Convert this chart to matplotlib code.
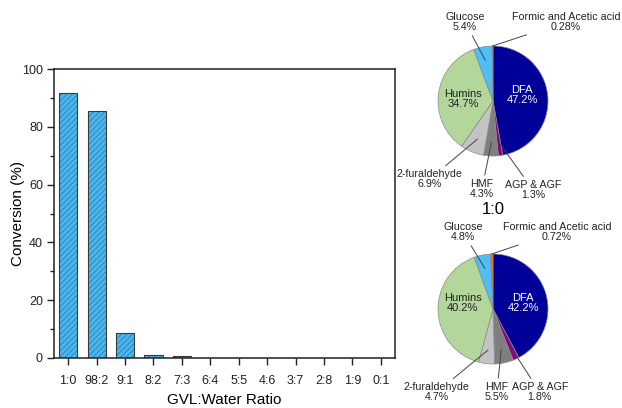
import numpy as np
import matplotlib
matplotlib.use("Agg")
import matplotlib.pyplot as plt
from matplotlib.ticker import MultipleLocator

plt.rcParams["font.family"] = ["Liberation Sans", "DejaVu Sans"]
plt.rcParams["hatch.linewidth"] = 0.6

# bar chart data
ratios = ["1:0", "98:2", "9:1", "8:2", "7:3", "6:4", "5:5", "4:6", "3:7", "2:8", "1:9", "0:1"]
conversion = [91.8, 85.5, 8.6, 0.9, 0.7, 0, 0, 0, 0, 0, 0, 0]

# pie chart data (clockwise from 12 o'clock)
products = ["DFA", "AGP & AGF", "HMF", "2-furaldehyde", "Humins", "Glucose",
            "Formic and Acetic acid"]
share_top = [47.2, 1.3, 4.3, 6.9, 34.7, 5.4, 0.28]
share_bottom = [42.2, 1.8, 5.5, 4.7, 40.2, 4.8, 0.72]
pie_colors = ["#000099", "#8b008b", "#7f7f7f", "#c3c3c3", "#b3d69b", "#4dbef7", "#ff6a00"]
pie_title = "1:0"

W, H = 622, 408
fig = plt.figure(figsize=(W / 100, H / 100), dpi=100)


def px_axes(x0, y0, x1, y1):
    # pixel box (top-left origin) -> figure axes
    return fig.add_axes([x0 / W, 1 - y1 / H, (x1 - x0) / W, (y1 - y0) / H])


# ---- bar chart ----
ax = px_axes(54, 69, 395, 358)
x = np.arange(len(ratios))
# fill + hatch first, then the outline on top
ax.bar(x, conversion, width=0.64, color="#4ab6ee", edgecolor="#2f7db3",
       linewidth=0, hatch="//////")
ax.bar(x, conversion, width=0.64, fill=False, edgecolor="#3a3a3a", linewidth=0.8)
ax.set_xlim(-0.5, len(ratios) - 0.5)
ax.set_ylim(0, 100)
ax.set_xticks(x)
ax.set_xticklabels(ratios)
ax.yaxis.set_major_locator(MultipleLocator(20))
ax.yaxis.set_minor_locator(MultipleLocator(10))
ax.tick_params(axis="both", which="both", direction="out", labelsize=9, width=1,
               colors="#222222")
ax.tick_params(which="major", length=5, pad=3)
ax.tick_params(which="minor", length=3)
ax.tick_params(axis="x", pad=7)
for s in ax.spines.values():
    s.set_linewidth(1.1)
    s.set_color("#222222")
ax.set_xlabel("GVL:Water Ratio", fontsize=11, va="center")
ax.set_ylabel("Conversion (%)", fontsize=11, va="center")
ax.xaxis.set_label_coords(0.5, (358 - 400) / (358 - 69))
ax.yaxis.set_label_coords((18 - 54) / (395 - 54), 0.5)

# ---- pies ----
R = 55  # pie radius in pixels

# label text positions relative to pie centre, in radius units
text_pos_top = [(0.53, 0.11), (0.73, -1.62), (-0.2, -1.6), (-1.15, -1.42),
                (-0.55, 0.04), (-0.51, 1.44), (1.33, 1.44)]
text_pos_bottom = [(0.55, 0.11), (0.85, -1.51), (0.07, -1.51), (-1.02, -1.51),
                   (-0.55, 0.11), (-0.55, 1.40), (1.16, 1.40)]


def draw_pie(cx, cy, values, text_pos):
    pa = px_axes(cx - 2 * R, cy - 2 * R, cx + 2 * R, cy + 2 * R)
    pa.pie(values, colors=pie_colors, startangle=90, counterclock=False, radius=1,
           wedgeprops=dict(edgecolor="#8a8a8a", linewidth=0.5))
    pa.set_xlim(-2, 2)
    pa.set_ylim(-2, 2)
    pa.set_aspect("equal")
    pa.axis("off")
    total = sum(values)
    start = 90.0
    for name, v, (tx, ty) in zip(products, values, text_pos):
        ang = np.deg2rad(start - v / total * 180)
        start -= v / total * 360
        label = f"{name}\n{v:g}%"
        if name in ("DFA", "Humins"):
            pa.text(tx, ty, label, ha="center", va="center", fontsize=8,
                    color="white" if name == "DFA" else "#222222", linespacing=0.95)
            continue
        r0 = 1.0 if v < 1 else 0.75
        pa.annotate(label, xy=(r0 * np.cos(ang), r0 * np.sin(ang)), xytext=(tx, ty),
                    ha="center", va="center", fontsize=7.7, color="#222222",
                    linespacing=0.95, annotation_clip=False,
                    arrowprops=dict(arrowstyle="-", color="#444444", lw=0.7,
                                    shrinkA=1, shrinkB=0))


draw_pie(493, 101, share_top, text_pos_top)
draw_pie(493, 309, share_bottom, text_pos_bottom)
fig.text(493 / W, 1 - 210 / H, pie_title, ha="center", va="center", fontsize=12)

fig.savefig("out.png", dpi=100)
